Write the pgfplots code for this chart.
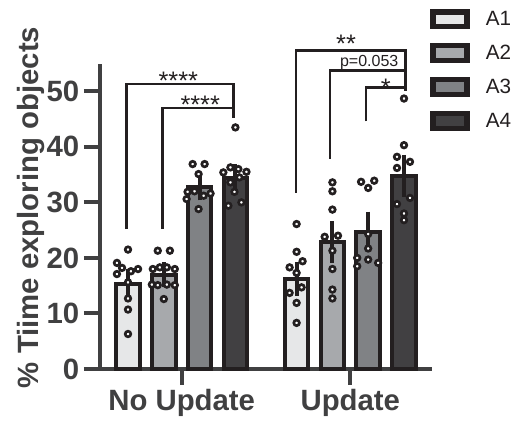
\documentclass[border=0pt]{standalone}
\usepackage{fontspec}
\setmainfont{Liberation Sans}
\usepackage{pgfplots}
\pgfplotsset{compat=1.18}
\usepackage{pgfplotstable}

\definecolor{cA}{HTML}{E6E7E8}
\definecolor{cB}{HTML}{A7A9AC}
\definecolor{cC}{HTML}{808285}
\definecolor{cD}{HTML}{414042}
\definecolor{bord}{HTML}{231F20}
\definecolor{axc}{HTML}{404041}

% bars: x position, mean, SEM
\pgfplotstableread{
x y e
-0.3185 15.3 1.3
0.6815 16.2 1.7
}\barA
\pgfplotstableread{
x y e
-0.106 17.0 0.9
0.894 22.9 2.4
}\barB
\pgfplotstableread{
x y e
0.106 32.7 1.0
1.106 24.7 2.3
}\barC
\pgfplotstableread{
x y e
0.3185 34.3 1.2
1.3185 34.8 2.4
}\barD

% individual points
\pgfplotstableread{
x y
-0.3185 21.5
-0.384 19.1
-0.354 18.2
-0.259 18.0
-0.301 17.6
-0.384 17.1
-0.3185 15.6
-0.3185 12.7
-0.3185 10.7
-0.3185 6.3
0.6815 26.1
0.6815 21.1
0.717 19.4
0.640 18.3
0.6815 17.3
0.711 14.7
0.640 13.7
0.6815 11.9
0.6815 8.3
}\ptsA
\pgfplotstableread{
x y
-0.142 21.3
-0.070 21.3
-0.171 18.0
-0.130 18.3
-0.088 18.3
-0.041 18.0
-0.177 15.2
-0.142 15.1
-0.088 15.2
-0.041 15.1
-0.106 12.6
0.894 33.6
0.894 32.0
0.894 28.7
0.848 23.8
0.927 24.0
0.894 21.3
0.894 18.0
0.894 14.3
0.894 12.7
}\ptsB
\pgfplotstableread{
x y
0.065 36.9
0.136 36.9
0.100 35.1
0.035 31.9
0.076 32.0
0.130 31.2
0.171 31.6
0.029 30.6
0.100 28.8
1.064 33.7
1.142 33.9
1.106 32.6
1.106 24.3
1.106 21.7
1.041 20.0
1.041 18.5
1.106 19.7
1.165 19.1
}\ptsC
\pgfplotstableread{
x y
0.3185 43.5
0.289 36.3
0.336 36.0
0.247 35.4
0.384 35.5
0.289 33.6
0.342 34.5
0.313 31.9
0.354 30.0
0.277 29.4
1.3185 48.7
1.3185 40.3
1.277 38.2
1.354 37.3
1.277 36.2
1.354 30.8
1.277 29.7
1.3185 28.0
1.3185 26.8
}\ptsD

\pgfplotsset{
  mybar/.style={ybar, bar width=17.6pt, bar shift=0pt, draw=bord, line width=3pt,
    error bars/.cd, y dir=both, y explicit,
    error bar style={line width=3pt, draw=bord},
    error mark options={line width=3pt, draw=bord, mark size=5.6pt},
    /pgfplots/.cd,
    legend image code/.code={\path[##1, draw=bord, line width=4pt, draw] (1.5pt,-0.8pt) rectangle (27pt,10.1pt); \path (0pt,0pt) (39.6pt,0pt);}},
  pts/.style={only marks, mark=*, mark size=2.1pt, mark options={fill=white, draw=bord, line width=2pt}, forget plot},
  brk/.style={draw=bord, line width=2pt, mark=none, forget plot, line join=miter},
}
\tikzset{sig/.style={font=\fontsize{19}{20}\selectfont, anchor=base, text=bord, inner sep=0pt, text depth=0pt}}

\begin{document}
\begin{tikzpicture}
\begin{axis}[
  at={(75pt,40.5pt)}, anchor=south west,
  scale only axis, width=249pt, height=229.1pt,
  xmin=-0.4846, xmax=1.4846, ymin=0, ymax=55,
  clip=false,
  axis x line*=bottom, axis y line*=left,
  axis line style={line width=3pt, draw=axc},
  xtick={0,1}, xticklabels={No Update,Update},
  ytick={0,10,20,30,40,50},
  tick align=outside, major tick length=12pt,
  tick style={line width=3pt, draw=axc},
  ticklabel style={font=\fontsize{22}{26}\selectfont\bfseries, text=axc},
  /pgf/number format/assume math mode=true,
  ylabel={\% Tiime exploring objects},
  every axis y label/.style={at={(rel axis cs:-0.186,0.5286)}, rotate=90, anchor=base,
     font=\fontsize{22}{26}\selectfont\bfseries, text=axc},
  legend style={at={(0.991,1.1778)}, anchor=north west, draw=none, fill=none,
     inner sep=0pt, outer sep=0pt, row sep=10.55pt, column sep=0pt,
     font=\fontsize{15.5}{17}\selectfont, text=bord,
     nodes={inner sep=0pt, text height=11pt, text depth=2pt},
     cells={anchor=base west}},
]
\addplot[mybar, fill=cA] table[x=x, y=y, y error=e] {\barA};
\addlegendentry{A1}
\addplot[mybar, fill=cB] table[x=x, y=y, y error=e] {\barB};
\addlegendentry{A2}
\addplot[mybar, fill=cC] table[x=x, y=y, y error=e] {\barC};
\addlegendentry{A3}
\addplot[mybar, fill=cD] table[x=x, y=y, y error=e] {\barD};
\addlegendentry{A4}

\addplot[pts] table[x=x, y=y] {\ptsA};
\addplot[pts] table[x=x, y=y] {\ptsB};
\addplot[pts] table[x=x, y=y] {\ptsC};
\addplot[pts] table[x=x, y=y] {\ptsD};

% significance brackets
\addplot[brk] coordinates {(-0.326,25.2) (-0.326,51.3) (0.306,51.3) (0.306,45.2)};
\addplot[brk] coordinates {(-0.115,25.2) (-0.115,47.0) (0.306,47.0)};
\addplot[brk] coordinates {(0.678,31.7) (0.678,57.35) (1.3286,57.35) (1.3286,50.0)};
\addplot[brk] coordinates {(0.8796,37.9) (0.8796,53.76) (1.3286,53.76)};
\addplot[brk] coordinates {(1.093,44.6) (1.093,50.7) (1.3286,50.7)};

\node[sig] at (axis cs:-0.020,50.4) {****};
\node[sig] at (axis cs:0.110,46.0) {****};
\node[sig] at (axis cs:0.975,56.9) {**};
\node[font=\fontsize{12}{14}\selectfont, anchor=base, text=bord, inner sep=0pt, text height=8.5pt] at (axis cs:1.112,54.4) {p=0.053};
\node[sig] at (axis cs:1.210,49.0) {*};
\end{axis}
\pgfresetboundingbox
\path[use as bounding box] (0,0) rectangle (388.5pt,317.25pt);
\end{tikzpicture}
\end{document}
